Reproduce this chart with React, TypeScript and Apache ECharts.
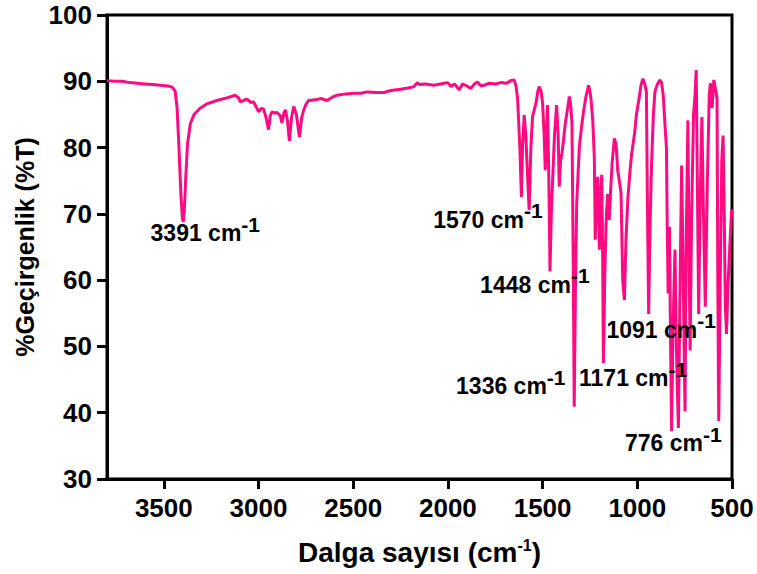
import { useEffect, useRef } from 'react';
import * as echarts from 'echarts';

const wavenumbers = [
  3800, 3760, 3720, 3680, 3640, 3600, 3560, 3520, 3480, 3455, 3440, 3430, 3420, 3410, 3402, 3397, 3392, 3385, 3375, 3360,
  3340, 3310, 3272, 3220, 3167, 3123, 3105, 3096, 3080, 3061, 3040, 3026, 3010, 2999, 2985, 2973, 2960, 2947, 2938, 2929,
  2915, 2902, 2885, 2876, 2866, 2858, 2847, 2837, 2826, 2814, 2800, 2784, 2772, 2761, 2748, 2735, 2700, 2670, 2638, 2610,
  2585, 2540, 2497, 2460, 2426, 2380, 2338, 2300, 2250, 2210, 2179, 2162, 2150, 2120, 2074, 2040, 2003, 1990, 1985, 1965,
  1941, 1923, 1900, 1879, 1860, 1844, 1825, 1809, 1780, 1750, 1721, 1690, 1668, 1650, 1640, 1632, 1620, 1612, 1606, 1597,
  1588, 1580, 1571, 1562, 1553, 1535, 1525, 1518, 1508, 1500, 1492, 1486, 1480, 1474, 1467, 1461, 1454, 1447, 1437, 1426,
  1418, 1412, 1405, 1398, 1390, 1380, 1370, 1359, 1352, 1345, 1339, 1333, 1327, 1320, 1306, 1295, 1285, 1271, 1257, 1250,
  1244, 1235, 1227, 1222, 1216, 1209, 1204, 1200, 1194, 1188, 1183, 1179, 1172, 1165, 1157, 1148, 1140, 1133, 1121, 1112,
  1103, 1095, 1086, 1077, 1068, 1060, 1050, 1040, 1030, 1015, 1005, 990, 980, 970, 960, 952, 946, 940, 933, 925,
  915, 907, 895, 881, 872, 863, 855, 846, 842, 837, 830, 826, 819, 812, 801, 795, 789, 783, 776, 766,
  758, 752, 748, 742, 733, 727, 721, 713, 703, 695, 689, 683, 676, 668, 659, 652, 641, 630, 620, 614,
  605, 596, 588, 579, 575, 570, 562, 554, 547, 541, 535, 529, 520, 510, 502,
];

const transmittance = [
  90.1, 90.0, 90.0, 89.8, 89.7, 89.6, 89.5, 89.4, 89.3, 89.1, 88.5, 86.0, 80.0, 73.0, 69.3, 68.8, 70.5, 75.0, 80.5, 83.6,
  85.0, 85.9, 86.6, 87.1, 87.5, 87.9, 87.5, 86.9, 87.1, 87.3, 86.8, 86.9, 86.0, 85.4, 85.9, 85.8, 84.5, 82.7, 84.8, 85.4,
  85.2, 85.3, 84.8, 83.7, 85.2, 85.7, 84.0, 81.0, 84.5, 86.2, 85.0, 81.6, 84.5, 85.7, 86.6, 87.1, 87.2, 87.4, 87.1, 87.6,
  87.9, 88.1, 88.2, 88.2, 88.4, 88.3, 88.3, 88.6, 88.8, 89.0, 89.2, 89.8, 89.5, 89.6, 89.4, 89.6, 89.8, 89.5, 89.2, 89.6,
  88.7, 89.6, 89.3, 88.9, 89.6, 89.9, 89.3, 89.4, 89.7, 89.6, 89.8, 89.7, 90.1, 90.2, 89.2, 87.4, 80.0, 72.5, 80.0, 84.9,
  81.6, 76.0, 70.6, 80.0, 84.7, 86.7, 88.5, 89.2, 88.5, 86.7, 82.0, 76.6, 82.0, 86.4, 75.0, 61.3, 70.0, 75.1, 82.0, 86.4,
  82.0, 74.1, 78.0, 79.1, 81.0, 83.7, 85.5, 87.7, 86.5, 83.7, 65.0, 40.9, 58.0, 71.6, 80.1, 83.0, 85.2, 87.7, 89.4, 88.5,
  87.2, 84.0, 78.6, 66.1, 72.0, 75.6, 70.0, 64.6, 72.0, 75.9, 64.0, 47.5, 60.0, 68.6, 73.0, 69.1, 74.0, 77.6, 81.4, 80.5,
  76.4, 75.0, 73.2, 60.0, 57.0, 66.0, 72.2, 76.0, 79.0, 82.0, 84.9, 87.5, 89.5, 90.4, 89.5, 88.4, 70.0, 54.9, 68.0, 77.3,
  85.0, 88.4, 89.5, 90.2, 89.8, 87.9, 84.0, 79.8, 68.0, 58.0, 68.0, 55.0, 37.2, 52.0, 64.6, 52.0, 44.0, 37.7, 55.0, 77.3,
  62.0, 48.0, 40.2, 65.0, 84.1, 65.0, 49.4, 70.0, 85.0, 88.0, 91.7, 75.0, 54.9, 72.0, 84.6, 72.0, 56.0, 75.0, 88.0, 89.7,
  86.0, 90.2, 89.0, 87.4, 60.0, 38.7, 60.0, 78.0, 81.8, 70.0, 56.0, 51.9, 60.0, 66.0, 70.7,
];

const peakNames = ['3391', '1570', '1448', '1336', '1171', '1091', '776'];
const peakLabelX = [3281, 1789, 1541, 1668, 1022, 874, 810];
const peakLabelY = [67.1, 69.1, 59.3, 44.0, 45.2, 52.5, 35.4];

const FONT = '"Liberation Sans", Arial, Helvetica, sans-serif';

export default function App() {
  const ref = useRef<HTMLDivElement>(null);

  useEffect(() => {
    if (!ref.current) return;
    const chart = echarts.init(ref.current, null, { renderer: 'svg' });
    const lineData = wavenumbers.map((w, i) => [w, transmittance[i]]);
    const labelData = peakNames.map((n, i) => [peakLabelX[i], peakLabelY[i], n]);

    chart.setOption({
      animation: false,
      backgroundColor: '#fff',
      grid: {
        left: 107,
        top: 15,
        width: 625,
        height: 464,
        show: true,
        borderColor: '#000',
        borderWidth: 3,
        backgroundColor: 'transparent',
      },
      xAxis: {
        type: 'value',
        inverse: true,
        min: 500,
        max: 3800,
        interval: 500,
        splitLine: { show: false },
        axisLine: { show: true, onZero: false, lineStyle: { color: '#000', width: 3 } },
        axisTick: { show: true, length: 10, lineStyle: { color: '#000', width: 3 } },
        axisLabel: {
          showMaxLabel: false,
          color: '#000',
          fontFamily: FONT,
          fontWeight: 'bold',
          fontSize: 26,
          margin: 16,
          formatter: (v: number) => String(v),
        },
        name: '{a|Dalga sayısı (cm}{b|-1}{a|)}',
        nameLocation: 'middle',
        nameGap: 58,
        nameTextStyle: {
          rich: {
            a: { fontFamily: FONT, fontWeight: 'bold', fontSize: 28, color: '#000' },
            b: { fontFamily: FONT, fontWeight: 'bold', fontSize: 16, color: '#000', padding: [0, 0, 14, 0] },
          },
        },
      },
      yAxis: {
        type: 'value',
        min: 30,
        max: 100,
        interval: 10,
        splitLine: { show: false },
        axisLine: { show: true, onZero: false, lineStyle: { color: '#000', width: 3 } },
        axisTick: { show: true, length: 10, lineStyle: { color: '#000', width: 3 } },
        axisLabel: {
          color: '#000',
          fontFamily: FONT,
          fontWeight: 'bold',
          fontSize: 26,
          margin: 15,
        },
        name: '%Geçirgenlik (%T)',
        nameLocation: 'middle',
        nameGap: 66,
        nameTextStyle: { fontFamily: FONT, fontWeight: 'bold', fontSize: 25, color: '#000' },
      },
      series: [
        {
          type: 'line',
          data: lineData,
          showSymbol: false,
          symbol: 'none',
          lineStyle: { color: '#FF0A82', width: 3 },
          clip: true,
          z: 2,
        },
        {
          type: 'scatter',
          data: labelData,
          symbolSize: 0,
          itemStyle: { opacity: 1 },
          z: 5,
          label: {
            show: true,
            position: 'inside',
            color: '#000',
            formatter: (p: any) => `{a|${p.data[2]} cm}{b|-1}`,
            rich: {
              a: { fontFamily: FONT, fontWeight: 'bold', fontSize: 23, color: '#000' },
              b: { fontFamily: FONT, fontWeight: 'bold', fontSize: 21, color: '#000', padding: [0, 0, 18, 0] },
            },
          },
        },
      ],
    });

    return () => chart.dispose();
  }, []);

  return (
    <div
      ref={ref}
      style={{ position: 'fixed', left: 0, top: 0, width: 757, height: 574, background: '#fff' }}
    />
  );
}
